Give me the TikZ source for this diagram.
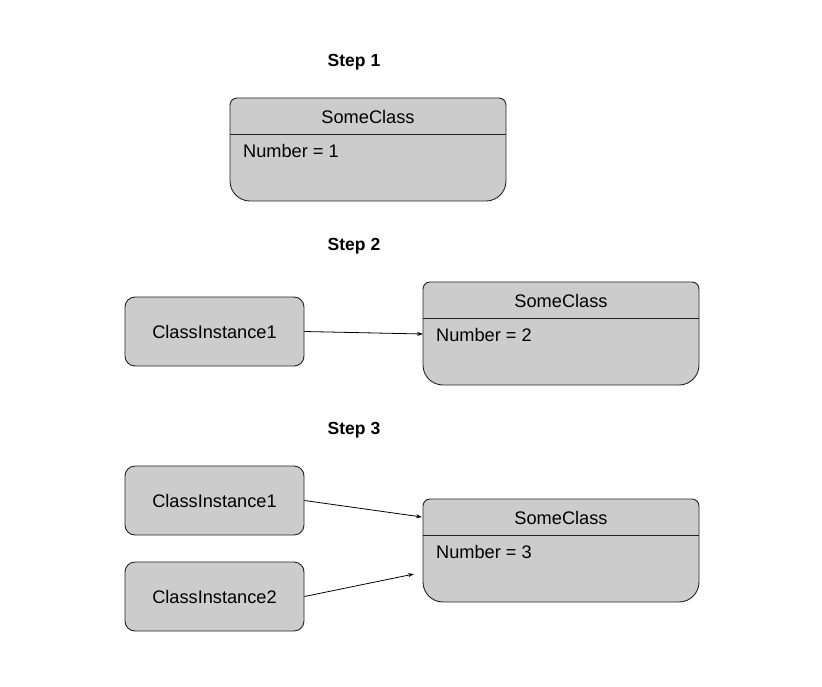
\documentclass[tikz,border=0pt]{standalone}
\usepackage{fontspec}
\setmainfont{Liberation Sans}
\usetikzlibrary{arrows.meta}
\definecolor{boxgray}{HTML}{CCCCCC}
\definecolor{edgegray}{HTML}{222222}
\tikzset{
  lbl/.style={font=\fontsize{17.5}{20}\selectfont\bfseries, inner sep=0pt},
  txt/.style={font=\fontsize{18.2}{21}\selectfont, inner sep=0pt},
  inst/.style={draw=edgegray, fill=boxgray, line width=0.9pt, rounded corners=10pt,
    minimum width=179pt, minimum height=69pt, font=\fontsize{18.2}{21}\selectfont, inner sep=0pt},
  clsframe/.style={draw=edgegray, fill=boxgray, line width=0.9pt},
  conn/.style={draw=black, line width=0.8pt, -{Stealth[length=6pt,width=4pt]}}
}
% #1 name, #2 x, #3 y (top-left), #4 number
\newcommand\clsbox[4]{%
  \path[clsframe] ({#2+7},{#3}) -- ({#2+276-7},{#3}) arc[start angle=270,end angle=360,radius=7]
     -- ({#2+276},{#3+103-20}) arc[start angle=0,end angle=90,radius=20]
     -- ({#2+20},{#3+103}) arc[start angle=90,end angle=180,radius=20]
     -- ({#2},{#3+7}) arc[start angle=180,end angle=270,radius=7] -- cycle;
  \node[minimum width=276pt, minimum height=103pt, inner sep=0pt, anchor=north west] (#1) at ({#2},{#3}) {};
  \coordinate (#1-hl) at ({#2},{#3+36});
  \coordinate (#1-hr) at ({#2+276},{#3+36});
  \draw[edgegray, line width=0.9pt] (#1-hl) -- (#1-hr);
  \node[txt] (#1-head) at ({#2+138},{#3+19}) {SomeClass};
  \node[txt, anchor=west] (#1-attr) at ({#2+13},{#3+53}) {Number = #4};
}
\begin{document}
\begin{tikzpicture}[x=1pt,y=-1pt]
\useasboundingbox (0,0) rectangle (822,686);
% Step 1
\node[lbl] (s1) at (354,62.5) {Step 1};
\clsbox{c1}{230}{98}{1}
% Step 2
\node[lbl] (s2) at (354,246) {Step 2};
\clsbox{c2}{423}{282}{2}
\node[inst] (i21) at (214.5,331.5) {ClassInstance1};
\coordinate (t2) at (423,334);
\draw[conn] (i21.east) -- (t2);
% Step 3
\node[lbl] (s3) at (354,430) {Step 3};
\clsbox{c3}{423}{499}{3}
\node[inst] (i31) at (214.5,500.5) {ClassInstance1};
\node[inst] (i32) at (214.5,596.5) {ClassInstance2};
\coordinate (t31) at (422,517);
\coordinate (t32) at (414,574);
\draw[conn] (i31.east) -- (t31);
\draw[conn] (i32.east) -- (t32);
\end{tikzpicture}
\end{document}
